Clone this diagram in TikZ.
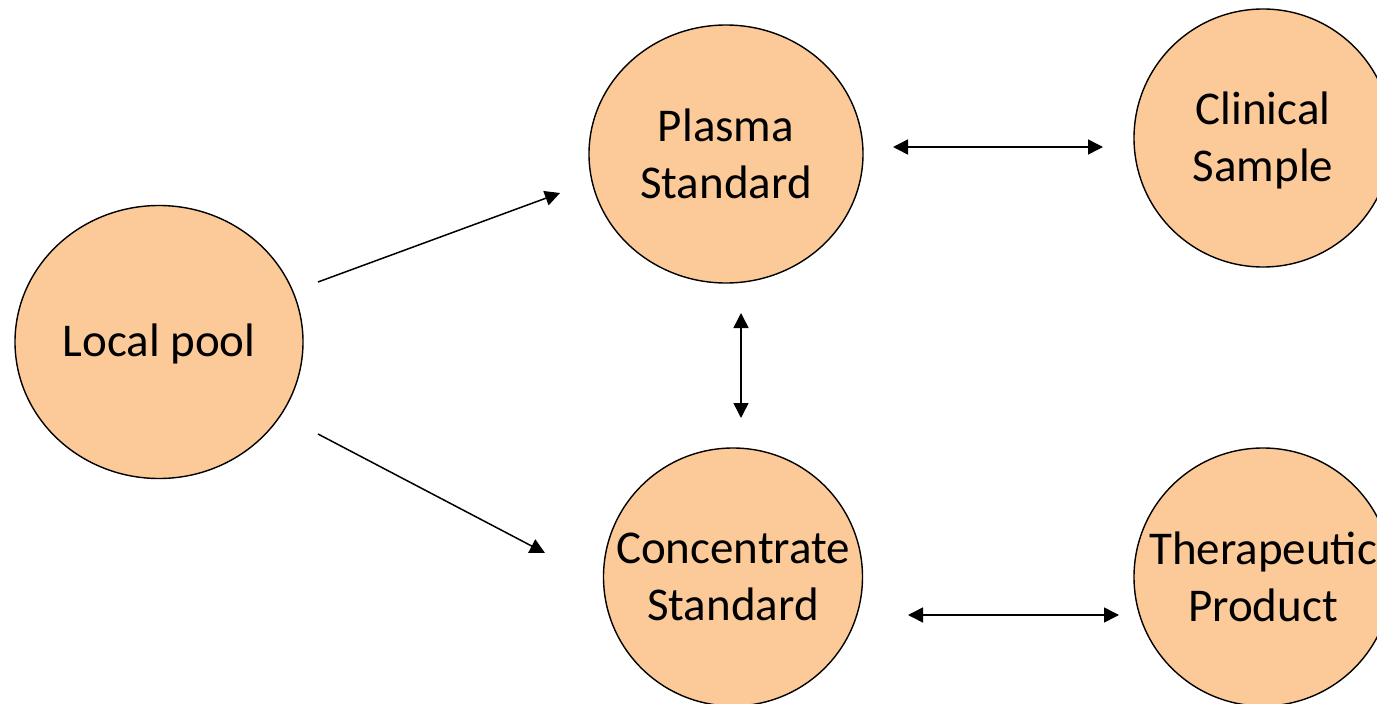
\documentclass[tikz,border=0pt]{standalone}
\usepackage{fontspec}
\setmainfont{Carlito}
\usetikzlibrary{shapes.geometric,arrows.meta}
\definecolor{peach}{HTML}{FBCA98}
\tikzset{
  blob/.style={ellipse, draw=black, line width=1.4pt, fill=peach, inner sep=0pt},
  blobtext/.style={inner sep=0pt, align=center, font=\fontsize{47}{57}\selectfont},
  link/.style={line width=1.5pt, -{Triangle[length=15pt,width=15pt]}},
  twoway/.style={line width=1.5pt, {Triangle[length=15pt,width=15pt]}-{Triangle[length=15pt,width=15pt]}}
}
\begin{document}
\begin{tikzpicture}[x=1pt,y=-1pt]
  \useasboundingbox (0,0) rectangle (1377,704);
  \clip (0,0) rectangle (1377,704);
  % circles
  \node[blob, minimum width=288pt, minimum height=273pt] (lp) at (159,342) {};
  \node[blob, minimum width=274pt, minimum height=258pt] (ps) at (726,154) {};
  \node[blob, minimum width=258pt, minimum height=258pt] (cs) at (1263,138) {};
  \node[blob, minimum width=259pt, minimum height=258pt] (cc) at (733,577) {};
  \node[blob, minimum width=258pt, minimum height=258pt] (tp) at (1263,577) {};
  % labels inside the circles
  \node[blobtext] (lpText) at ([yshift=-2pt]lp.center) {Local pool};
  \node[blobtext] (psText) at (ps.center) {Plasma\\Standard};
  \node[blobtext] (csText) at ([yshift=-2pt]cs.center) {Clinical\\Sample};
  \node[blobtext] (ccText) at (cc.center) {Concentrate\\Standard};
  \node[blobtext] (tpText) at (tp.center) {Therapeutic\\Product};
  % arrow end points beside the circles
  \coordinate (lpUp) at (318,282);
  \coordinate (psIn) at (560,193);
  \coordinate (lpDown) at (318,434);
  \coordinate (ccIn) at (545,553);
  \coordinate (psRight) at (893,147);
  \coordinate (csLeft) at (1103,147);
  \coordinate (ccRight) at (908,615);
  \coordinate (tpLeft) at (1119,615);
  \coordinate (psBelow) at (741,313);
  \coordinate (ccAbove) at (741,418);
  % connectors
  \draw[link] (lpUp) -- (psIn);
  \draw[link] (lpDown) -- (ccIn);
  \draw[twoway] (psRight) -- (csLeft);
  \draw[twoway] (ccRight) -- (tpLeft);
  \draw[twoway] (psBelow) -- (ccAbove);
\end{tikzpicture}
\end{document}
